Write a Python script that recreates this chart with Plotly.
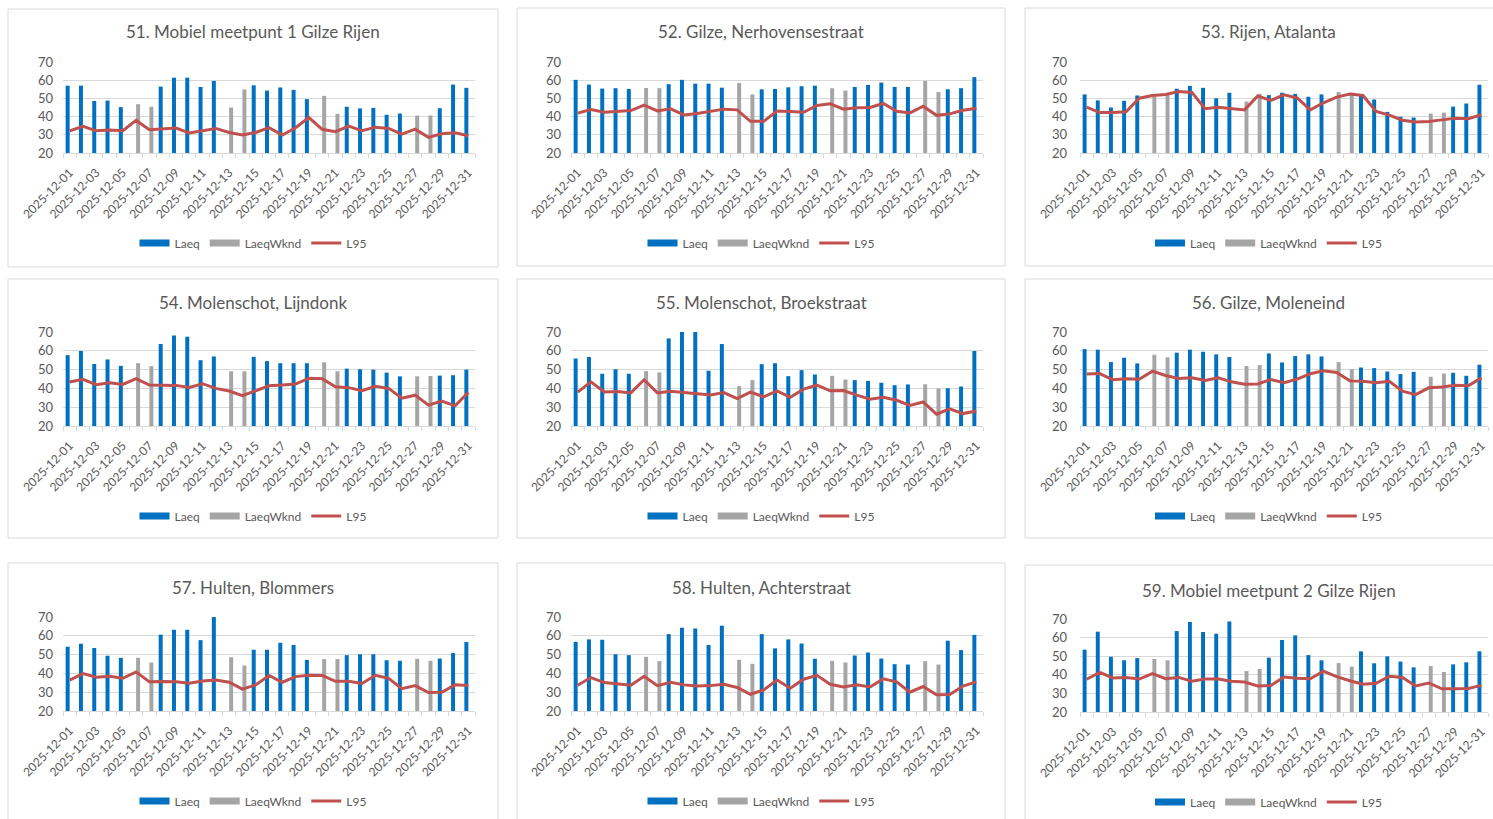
import plotly.graph_objects as go
import pandas as pd

# ---------------- data ----------------
DATES = [f"2025-12-{d:02d}" for d in range(1, 32)]

TITLES = [
    "51. Mobiel meetpunt 1 Gilze Rijen",
    "52. Gilze, Nerhovensestraat",
    "53. Rijen, Atalanta",
    "54. Molenschot, Lijndonk",
    "55. Molenschot, Broekstraat",
    "56. Gilze, Moleneind",
    "57. Hulten, Blommers",
    "58. Hulten, Achterstraat",
    "59. Mobiel meetpunt 2 Gilze Rijen",
]

# daily Laeq (weekend days are shown as LaeqWknd)
LAEQ_51 = [57, 57, 48.6, 48.8, 45.2, 46.8, 45.4, 56.5, 61.4, 61.4, 56.3, 59.6, 45, 54.9, 57.2, 54.3,
           56, 54.7, 49.6, 51.4, 41.5, 45.4, 44.5, 44.8, 41, 41.7, 40.6, 40.6, 44.6, 57.6, 55.8]
L95_51 = [32.2, 34.6, 32.2, 32.6, 32.2, 37.9, 32.8, 33.1, 33.7, 31, 32.2, 33.5, 31.3, 29.9, 31.3, 33.9,
          29.9, 33.9, 39.5, 33, 31.7, 34.8, 32.2, 34.2, 33.5, 30.4, 33.1, 28.6, 30.6, 31.1, 29.5]

LAEQ_52 = [60.2, 57.6, 55.4, 55.6, 55.2, 55.7, 55.6, 57.8, 60.2, 58.1, 58.1, 55.9, 58.5, 52.2, 55, 55.2,
           56.1, 56.7, 57, 55.6, 54.3, 56.3, 57.4, 58.7, 56.3, 56.3, 59.6, 53.5, 55, 55.6, 61.7]
L95_52 = [41.9, 43.9, 42.4, 42.8, 43.3, 46.3, 43.1, 44.3, 40.9, 41.7, 42.8, 44.1, 43.7, 37.4, 37.4, 43.1,
          42.8, 42.4, 46.1, 47, 44.1, 44.8, 45, 47.2, 42.9, 42, 45.7, 40.7, 41.5, 43.5, 44.6]

LAEQ_53 = [52.2, 48.9, 45, 48.7, 51.6, 51, 52.3, 55.3, 56.9, 55.8, 50.1, 53.1, 48.3, 52.5, 51.8, 53.1,
           52.5, 50.9, 52.2, 53.5, 53.1, 52, 49.4, 42.6, 39.9, 39.5, 41.7, 42.2, 45.5, 47.2, 57.5]
L95_53 = [45.2, 42.2, 42.2, 42.6, 50.1, 51.6, 52.2, 53.8, 53.3, 44.3, 45.2, 44.6, 43.7, 51.3, 48.9, 52,
          50.3, 43.7, 47.6, 50.7, 52.4, 51.6, 42.8, 40.8, 38, 37.1, 37.3, 38.2, 39.1, 38.8, 41]

LAEQ_54 = [57.7, 59.9, 53, 55.4, 52, 53.4, 51.8, 63.6, 68.1, 67.5, 55, 57, 49.1, 49.1, 56.8, 54.5,
           53.4, 53.4, 53.4, 53.9, 49.1, 50.5, 50.2, 50, 48.4, 46.4, 46.4, 46.6, 46.8, 47, 50]
L95_54 = [43.4, 44.8, 42, 43, 42.1, 45.2, 41.8, 41.8, 41.6, 40.5, 42.5, 40, 38.6, 36.1, 38.9, 41.4,
          41.8, 42.3, 45.4, 45.2, 40.9, 40.4, 38.8, 41.1, 40, 34.8, 36.4, 31.1, 33.2, 30.7, 37.9]

LAEQ_55 = [55.9, 56.7, 47.8, 50.2, 47.8, 49.2, 48.5, 66.6, 70.5, 70.5, 49.4, 63.6, 41.2, 44.4, 52.9, 53.4,
           46.5, 49.7, 47.4, 46.7, 44.7, 44.4, 44, 43, 41.7, 42.1, 42.2, 39.9, 40.1, 41, 59.9]
L95_55 = [38, 43.5, 38.1, 38.3, 37.6, 44.6, 37.6, 38.5, 37.8, 37.3, 36.5, 37.8, 34.6, 38, 35.5, 38.7,
          35.3, 39.6, 41.7, 38.7, 38.9, 36.4, 34.2, 35.3, 33.7, 30.9, 32.8, 26.3, 29.1, 26.6, 28]

LAEQ_56 = [60.9, 60.6, 54, 56.3, 53.3, 57.9, 56.5, 59, 60.6, 59.5, 58.1, 56.7, 51.9, 52.4, 58.6, 53.8,
           57.2, 58.1, 57, 54, 50.2, 51.1, 50.8, 49, 47.6, 48.8, 46.2, 47.9, 48.3, 46.7, 52.6]
L95_56 = [47.6, 47.9, 44.6, 45.1, 44.9, 49.2, 46.9, 45.3, 45.6, 44.2, 45.6, 43.5, 42.2, 42.4, 44.7, 43,
          44.9, 47.8, 49.4, 48.5, 44, 43.8, 43, 43.8, 38.5, 36.7, 40.3, 40.8, 41.7, 41.4, 45.6]

LAEQ_57 = [54.2, 55.8, 53.5, 49.4, 48.3, 48.3, 45.8, 60.6, 63.2, 63.2, 57.7, 70.5, 48.6, 44.2, 52.6, 52.6,
           56.3, 55.1, 47.2, 47.6, 47.6, 49.7, 50.2, 50.2, 47, 46.7, 47.8, 46.7, 47.9, 50.8, 56.7]
L95_57 = [36.4, 39.9, 38, 38.5, 37.4, 40.8, 35.5, 35.7, 35.5, 34.8, 36, 36.5, 35.3, 31.6, 33.9, 38.9,
          35.3, 38.3, 39, 38.9, 35.8, 35.8, 34.6, 39, 37.4, 31.9, 33.5, 29.8, 30, 33.9, 33.5]

LAEQ_58 = [56.8, 58.1, 57.9, 50.2, 49.7, 48.8, 46.5, 60.9, 64.3, 63.9, 55.1, 65.4, 47.2, 45.1, 60.9, 53.3,
           58.1, 55.9, 47.8, 46.7, 45.8, 49.5, 51.1, 47.9, 44.9, 44.7, 46.5, 44.7, 57.4, 52.4, 60.5]
L95_58 = [33.7, 37.8, 35.1, 34.6, 33.7, 38.5, 33.5, 35.3, 33.9, 33.3, 33.5, 34.2, 32.5, 28.9, 31.2, 36.5,
          32.1, 36.9, 39, 34.2, 32.8, 33.9, 32.8, 37.1, 35.5, 30, 33, 28.6, 28.8, 33.3, 35.5]

LAEQ_59 = [53.5, 63.2, 49.7, 47.8, 49, 48.5, 47.8, 63.5, 68.4, 63, 62.1, 68.6, 42, 43.1, 49.2, 58.7,
           61.2, 50.6, 47.8, 46.3, 44.4, 52.6, 46.2, 49.9, 47.1, 44, 44.7, 41.5, 45.6, 46.7, 52.6]
L95_59 = [37.6, 41.3, 38.3, 38.5, 37.7, 40.6, 37.9, 38.6, 36.5, 37.7, 37.7, 36.5, 36.1, 34, 34.3, 38.8,
          38.1, 37.9, 41.9, 39, 36.8, 34.9, 35.4, 39.2, 38.6, 34, 35.6, 32.5, 32.5, 32.7, 34.3]

LAEQ = [LAEQ_51, LAEQ_52, LAEQ_53, LAEQ_54, LAEQ_55, LAEQ_56, LAEQ_57, LAEQ_58, LAEQ_59]
L95 = [L95_51, L95_52, L95_53, L95_54, L95_55, L95_56, L95_57, L95_58, L95_59]

# ---------------- style / layout ----------------
W, H = 1493, 819
FONT = "Lato, 'Open Sans', sans-serif"
TXT = "#595959"
GRID = "#d9d9d9"
BLUE = "#0070C0"
GRAY = "#A5A5A5"
RED = "#C0504D"

COL_PLOT_X = [(63, 475), (571, 983), (1080, 1488)]
ROW_PLOT_Y = [(62, 153), (332, 426), (617, 711)]
COL_BOX_X = [(8, 498), (517, 1005), (1025, 1512)]
ROW_BOX_Y = [(9, 267), (279, 538), (563, 830)]
TITLE_Y = [32, 302, 587]
LEGEND_Y = [243, 516, 801]

weekend = [pd.Timestamp(d).weekday() >= 5 for d in DATES]

fig = go.Figure()
layout = {}
shapes = []
annotations = []

for i in range(9):
    k = i + 1
    r, c = divmod(i, 3)
    sfx = "" if k == 1 else str(k)
    xa, ya, lg = "x" + sfx, "y" + sfx, "legend" + sfx
    weekday_vals = [None if w else v for v, w in zip(LAEQ[i], weekend)]
    weekend_vals = [v if w else None for v, w in zip(LAEQ[i], weekend)]

    fig.add_trace(go.Bar(x=DATES, y=weekday_vals, name="Laeq", marker=dict(color=BLUE, line=dict(width=0)),
                         showlegend=False, xaxis=xa, yaxis=ya, hoverinfo="x+y"))
    fig.add_trace(go.Bar(x=DATES, y=weekend_vals, name="LaeqWknd", marker=dict(color=GRAY, line=dict(width=0)),
                         showlegend=False, xaxis=xa, yaxis=ya, hoverinfo="x+y"))
    # legend swatches (Excel style wide rectangles)
    fig.add_trace(go.Scatter(x=[None], y=[None], mode="lines", name="Laeq", line=dict(color=BLUE, width=7),
                             xaxis=xa, yaxis=ya, legend=lg, showlegend=True))
    fig.add_trace(go.Scatter(x=[None], y=[None], mode="lines", name="LaeqWknd", line=dict(color=GRAY, width=7),
                             xaxis=xa, yaxis=ya, legend=lg, showlegend=True))
    fig.add_trace(go.Scatter(x=DATES, y=L95[i], mode="lines", name="L95", line=dict(color=RED, width=3),
                             xaxis=xa, yaxis=ya, legend=lg, showlegend=True))

    px0, px1 = COL_PLOT_X[c]
    py0, py1 = ROW_PLOT_Y[r]
    if k == 9:
        py0, py1 = 619, 712
    layout["xaxis" + sfx] = dict(
        domain=[px0 / W, px1 / W], anchor=ya, type="date", automargin=False,
        range=["2025-11-30 12:00", "2025-12-31 12:00"],
        tickmode="linear", tick0="2025-12-01", dtick=2 * 86400000, tickformat="%Y-%m-%d",
        tickangle=-45, tickfont=dict(size=12, color=TXT, family=FONT),
        showgrid=False, zeroline=False, showline=True, linecolor=GRID, linewidth=1,
        ticks="", ticklabelstandoff=7,
        minor=dict(ticks="outside", ticklen=4, tickcolor=GRID, tickwidth=1,
                   tick0="2025-11-30 12:00", dtick=86400000, showgrid=False),
        fixedrange=True,
    )
    layout["yaxis" + sfx] = dict(
        domain=[1 - py1 / H, 1 - py0 / H], anchor=xa, range=[20, 70], automargin=False,
        tickmode="linear", tick0=20, dtick=10,
        showgrid=True, gridcolor=GRID, gridwidth=1, zeroline=False, showline=False,
        ticks="", ticklabelstandoff=9 if c < 2 else 12, tickfont=dict(size=13, color=TXT, family=FONT),
        fixedrange=True,
    )

    bx0, bx1 = COL_BOX_X[c]
    by0, by1 = ROW_BOX_Y[r]
    if k == 2 or k == 3:
        by0, by1 = 8, 266
    if k == 9:
        by0 = 565
    shapes.append(dict(type="rect", xref="paper", yref="paper",
                       x0=bx0 / W, x1=bx1 / W, y0=1 - by1 / H, y1=1 - by0 / H,
                       line=dict(color=GRID, width=1), fillcolor="rgba(0,0,0,0)", layer="below"))
    cx = (bx0 + bx1) / 2
    ty = TITLE_Y[r] + (3 if k == 9 else 0)
    annotations.append(dict(text=TITLES[i], x=cx / W, y=1 - ty / H, xref="paper", yref="paper",
                            xanchor="center", yanchor="middle", showarrow=False,
                            font=dict(size=17, color=TXT, family=FONT)))
    ly = LEGEND_Y[r] + (1 if k == 9 else 0)
    layout[lg] = dict(orientation="h", x=cx / W, y=1 - ly / H, xanchor="center", yanchor="middle",
                      font=dict(size=12, color=TXT, family=FONT), bgcolor="rgba(0,0,0,0)",
                      itemwidth=30, itemclick=False, itemdoubleclick=False, traceorder="normal")

fig.update_layout(
    width=W, height=H, autosize=False,
    margin=dict(l=0, r=0, t=0, b=0, autoexpand=False),
    paper_bgcolor="white", plot_bgcolor="white",
    barmode="group", bargap=0.4, bargroupgap=0.0,
    font=dict(family=FONT, color=TXT),
    shapes=shapes, annotations=annotations,
    **layout,
)

fig.write_html("out.html", include_plotlyjs=True, config={"displayModeBar": False},
               post_script="document.body.style.margin='0px';document.body.style.overflow='hidden';")
